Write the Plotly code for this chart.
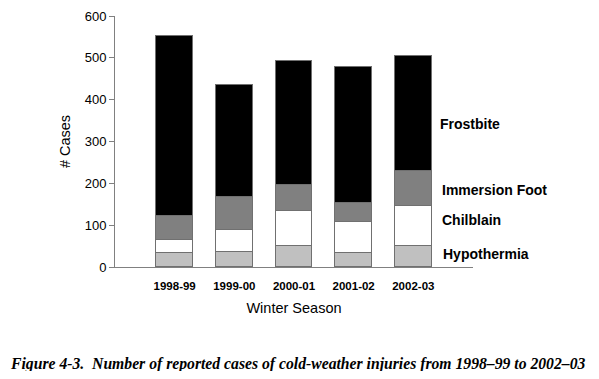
import plotly.graph_objects as go

seasons = ["1998-99", "1999-00", "2000-01", "2001-02", "2002-03"]
hypothermia = [33, 35, 51, 33, 51]
chilblain = [32, 54, 82, 74, 96]
immersion_foot = [57, 79, 64, 47, 83]
frostbite = [430, 267, 295, 324, 275]

series = [
    ("Hypothermia", hypothermia, "#c0c0c0"),
    ("Chilblain", chilblain, "#ffffff"),
    ("Immersion Foot", immersion_foot, "#808080"),
    ("Frostbite", frostbite, "#000000"),
]

# page offset of the plot div (body margin 8px on every side)
OX, OY = 8, 8
PL, PR, PT, PB = 115 - OX, 473 - OX, 16 - OY, 267 - OY  # plot area in figure coords
W, H = 599 - 2 * OX, 379 - 2 * OY

fig = go.Figure()
for name, vals, color in series:
    fig.add_trace(go.Bar(
        x=list(range(len(seasons))), y=vals, name=name,
        marker=dict(color=color, line=dict(color="#707070", width=1)),
        width=0.61,
    ))

def px(x):
    return (x - OX - PL) / (PR - PL)

def py(y):
    return (PB - (y - OY)) / (PB - PT)

label_y = [254, 220, 190, 124]
label_x = [441, 440, 440, 438]
names = ["Hypothermia", "Chilblain", "Immersion Foot", "Frostbite"]
for n, lx, ly in zip(names, label_x, label_y):
    fig.add_annotation(
        text=n, xref="paper", yref="paper", x=px(lx), y=py(ly),
        xanchor="left", yanchor="middle", showarrow=False,
        font=dict(family="Liberation Sans, Arial", size=14, color="black", weight="bold"),
    )

fig.add_annotation(
    text="Figure 4-3.  Number of reported cases of cold-weather injuries from 1998\u201399 to 2002\u201303",
    xref="paper", yref="paper", x=px(8), y=py(364),
    xanchor="left", yanchor="middle", showarrow=False,
    font=dict(family="Liberation Serif, Times New Roman", size=15.7, color="black",
              weight="bold", style="italic"),
)

fig.update_layout(
    barmode="stack",
    width=W, height=H,
    margin=dict(l=PL, r=W - PR, t=PT, b=H - PB, autoexpand=False),
    paper_bgcolor="white", plot_bgcolor="white",
    showlegend=False,
    font=dict(family="Liberation Sans, Arial", color="black"),
    bargap=0,
)
fig.update_xaxes(
    automargin=False,
    range=[-1, 5], tickmode="array", tickvals=list(range(len(seasons))), ticktext=seasons,
    tickfont=dict(size=11.5, weight="bold"), showline=True, linecolor="#808080", linewidth=1,
    ticks="", ticklabelstandoff=8, showgrid=False, zeroline=False,
    title=dict(text="Winter Season", font=dict(size=14.5), standoff=12),
)
fig.update_yaxes(
    automargin=False,
    range=[0, 600], tickvals=[0, 100, 200, 300, 400, 500, 600],
    tickfont=dict(size=13), showline=True, linecolor="#808080", linewidth=1,
    ticks="outside", ticklen=5, tickcolor="#808080", showgrid=False, zeroline=False,
    title=dict(text="# Cases", font=dict(size=14.5), standoff=10),
)

fig.write_html("out.html")
